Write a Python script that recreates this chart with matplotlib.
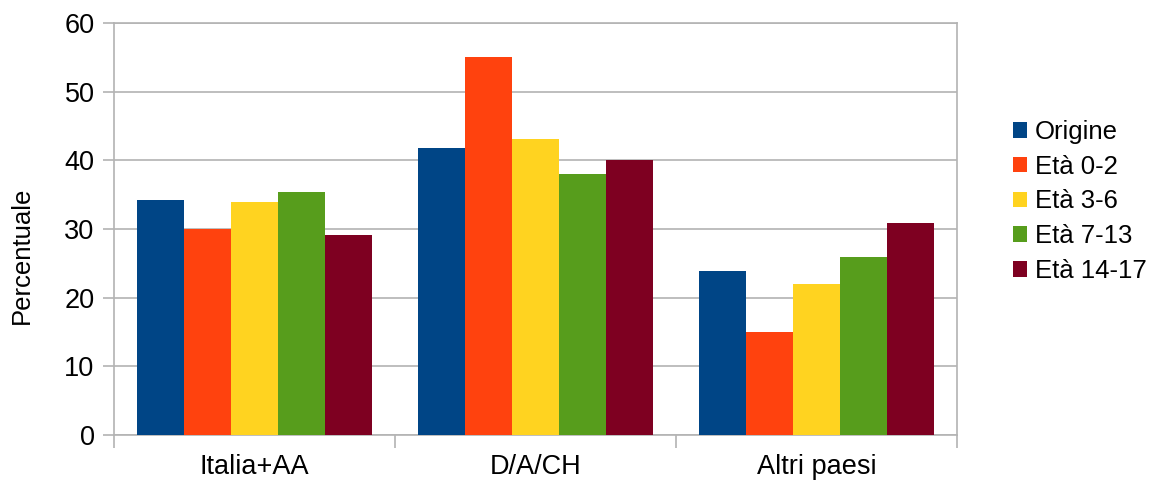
import matplotlib.pyplot as plt
import numpy as np

plt.rcParams['font.family'] = ['Liberation Sans', 'DejaVu Sans']

# dati
categorie = ['Italia+AA', 'D/A/CH', 'Altri paesi']
serie = ['Origine', 'Età 0-2', 'Età 3-6', 'Età 7-13', 'Età 14-17']
origine = [34.2, 41.8, 23.9]
eta_0_2 = [30.0, 55.0, 15.0]
eta_3_6 = [33.9, 43.1, 22.0]
eta_7_13 = [35.4, 38.0, 25.9]
eta_14_17 = [29.1, 40.0, 30.9]
colori = ['#004586', '#ff420e', '#ffd320', '#579d1c', '#7e0021']

valori = [origine, eta_0_2, eta_3_6, eta_7_13, eta_14_17]

fig = plt.figure(figsize=(11.55, 4.82), dpi=100)
ax = fig.add_axes([0.0987, 0.0975, 0.7300, 0.8545])

x = np.arange(len(categorie))
w = 0.1667
for i, (nome, v) in enumerate(zip(serie, valori)):
    ax.bar(x + (i - 2) * w, v, w, color=colori[i], label=nome, zorder=3)

ax.set_xlim(-0.5, 2.5)
ax.set_ylim(0, 60)
ax.set_yticks(range(0, 61, 10))
ax.set_xticks(x)
ax.set_xticklabels(categorie)
ax.set_xticks([-0.5, 0.5, 1.5, 2.5], minor=True)
ax.tick_params(axis='x', which='major', length=0, pad=14, labelsize=19.5)
ax.tick_params(axis='x', which='minor', length=9, color='#b3b3b3', width=1.2)
ax.tick_params(axis='y', length=8, color='#b3b3b3', width=1.2, pad=6, labelsize=19.5)
ax.grid(axis='y', color='#b3b3b3', linewidth=1.2, zorder=0)
for s in ax.spines.values():
    s.set_color('#b3b3b3')
    s.set_linewidth(1.2)

ax.set_ylabel('Percentuale', fontsize=18.5)
ax.yaxis.set_label_coords(-0.095, 0.437)

fig.legend(loc='center left', bbox_to_anchor=(0.877, 0.582), frameon=False,
           borderpad=0, borderaxespad=0, fontsize=18.5, handlelength=0.55,
           handleheight=0.55, handletextpad=0.3, labelspacing=0.42)

fig.savefig('out.png', dpi=100)
